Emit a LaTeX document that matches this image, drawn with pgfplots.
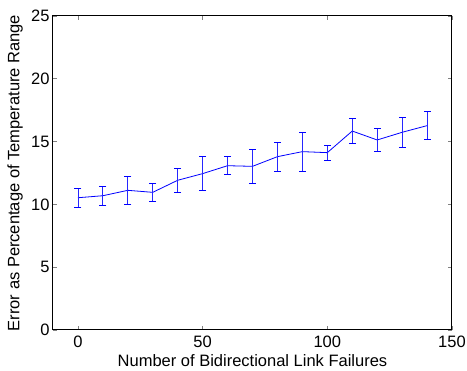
\documentclass[border=0pt]{standalone}
\usepackage{pgfplots}
\pgfplotsset{compat=1.18}
\usepackage{fontspec}
\setmainfont{Liberation Sans}
\begin{document}
\begin{tikzpicture}
\begin{axis}[
  name=ax,
  at={(0,0)}, anchor=south west,
  scale only axis,
  width=399pt, height=314pt,
  xmin=-10, xmax=150, ymin=0, ymax=25,
  xtick={0,50,100,150}, ytick={0,5,10,15,20,25},
  tick align=inside,
  major tick length=4pt,
  axis line style={line width=1pt},
  tick style={line width=0.6pt},
  /pgf/number format/assume math mode=true,
  tick label style={font=\fontsize{16.5}{18}\selectfont},
  xticklabel style={yshift=-2pt},
  xlabel={Number of Bidirectional Link Failures},
  ylabel={Error as Percentage of Temperature Range},
  every axis x label/.style={at={(axis description cs:0.5,0)}, anchor=base, yshift=-37pt, font=\fontsize{16.5}{18}\selectfont},
  every axis y label/.style={at={(axis description cs:-0.0952,0.5)}, anchor=center, rotate=90, font=\fontsize{16.5}{18}\selectfont},
  unbounded coords=jump,
]
% mean values
\addplot[color=blue, line width=0.8pt, mark=none] table[x=x, y=y] {
x y
0 10.53
10 10.69
20 11.12
30 10.96
40 11.92
50 12.45
60 13.08
70 13.03
80 13.80
90 14.20
100 14.12
110 15.84
120 15.13
130 15.74
140 16.27
};
% error bars (lower and upper ends)
\addplot[color=blue!85!white, line width=0.75pt, mark=-, mark size=3.5pt,
  mark options={solid, blue, line width=0.9pt}] table[x=x, y=y] {
x y
0 9.79
0 11.27
0 nan
10 9.94
10 11.44
10 nan
20 10.02
20 12.22
20 nan
30 10.23
30 11.69
30 nan
40 10.98
40 12.86
40 nan
50 11.08
50 13.82
50 nan
60 12.36
60 13.80
60 nan
70 11.69
70 14.37
70 nan
80 12.63
80 14.97
80 nan
90 12.66
90 15.74
90 nan
100 13.51
100 14.73
100 nan
110 14.86
110 16.82
110 nan
120 14.19
120 16.07
120 nan
130 14.54
130 16.94
130 nan
140 15.17
140 17.37
};
\end{axis}
\pgfresetboundingbox
\useasboundingbox (-53pt,-41pt) rectangle (414pt,330pt);
\end{tikzpicture}
\end{document}
